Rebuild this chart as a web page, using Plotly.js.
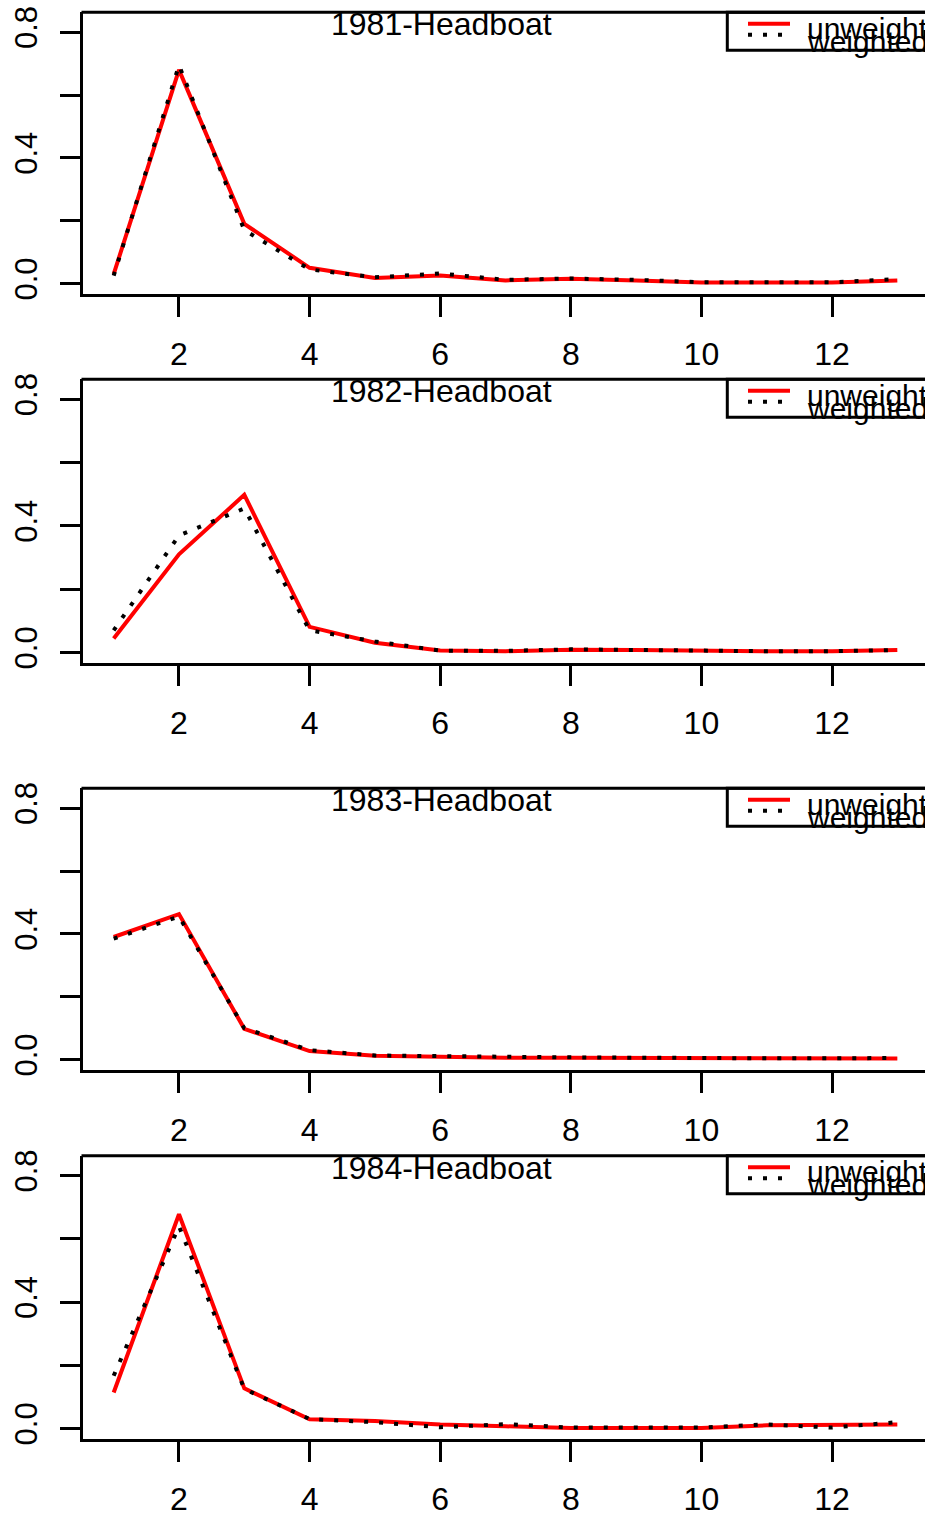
<!DOCTYPE html>
<html>
<head>
<meta charset="utf-8">
<script src="https://cdn.plot.ly/plotly-3.0.1.min.js"></script>
<style>html,body{margin:0;padding:0;background:#fff;}#chart{width:925px;height:1520px;}</style>
</head>
<body>
<div id="chart"></div>
<script>
// ---- data ----
const ages = [1,2,3,4,5,6,7,8,9,10,11,12,13];
const panelTitles = ["1981-Headboat","1982-Headboat","1983-Headboat","1984-Headboat"];
const seriesNames = ["unweighted","weighted"];
const xTickVals = [2,4,6,8,10,12];
const yTickVals = [0,0.2,0.4,0.6,0.8];
const yTickText = ["0.0","","0.4","","0.8"];

const unweighted1981 = [0.03,0.68,0.19,0.05,0.018,0.026,0.01,0.015,0.01,0.003,0.003,0.003,0.01];
const weighted1981   = [0.025,0.695,0.17,0.045,0.02,0.032,0.012,0.016,0.012,0.004,0.004,0.004,0.014];
const unweighted1982 = [0.044,0.31,0.498,0.081,0.031,0.006,0.004,0.009,0.008,0.005,0.004,0.004,0.008];
const weighted1982   = [0.07,0.37,0.455,0.07,0.035,0.006,0.005,0.01,0.008,0.005,0.004,0.004,0.008];
const unweighted1983 = [0.39,0.463,0.098,0.027,0.012,0.008,0.006,0.006,0.006,0.003,0.003,0.003,0.003];
const weighted1983   = [0.385,0.455,0.1,0.03,0.013,0.01,0.007,0.007,0.006,0.004,0.004,0.004,0.005];
const unweighted1984 = [0.114,0.678,0.127,0.029,0.024,0.013,0.007,0.002,0.002,0.002,0.01,0.012,0.013];
const weighted1984   = [0.167,0.64,0.125,0.03,0.02,0.004,0.014,0.003,0.003,0.003,0.013,0.003,0.02];

const unweightedAll = [unweighted1981,unweighted1982,unweighted1983,unweighted1984];
const weightedAll = [weighted1981,weighted1982,weighted1983,weighted1984];

// ---- layout geometry (pixels) ----
const W = 925, H = 1520;
const FONT = "Liberation Sans, Arial, Helvetica, sans-serif";
const panelTop = [12.3, 379.3, 788.3, 1155.7];
const panelBottom = [294, 663, 1070, 1439];
const plotLeft = 83;
const px = v => v / W;
const py = v => 1 - v / H;

const traces = [];
const layout = {
  width: W, height: H,
  margin: {l:0, r:0, t:0, b:0},
  paper_bgcolor: "#fff", plot_bgcolor: "#fff",
  showlegend: false,
  shapes: [], annotations: []
};

for (let i = 0; i < 4; i++) {
  const n = i === 0 ? "" : String(i + 1);
  const xa = "x" + n, ya = "y" + n;
  traces.push({
    x: ages, y: unweightedAll[i], xaxis: xa, yaxis: ya, type: "scatter", mode: "lines",
    name: seriesNames[0], line: {color: "#ff0000", width: 4}
  });
  traces.push({
    x: ages, y: weightedAll[i], xaxis: xa, yaxis: ya, type: "scatter", mode: "lines",
    name: seriesNames[1], line: {color: "#000000", width: 4, dash: "4px,11px"}
  });
  layout["xaxis" + n] = {
    domain: [px(plotLeft), 1], range: [0.53, 13.424], anchor: ya,
    tickvals: xTickVals, ticks: "outside", ticklen: 20, tickwidth: 3, tickcolor: "#000",
    showline: true, linewidth: 3, linecolor: "#000", showgrid: false, zeroline: false,
    tickfont: {family: FONT, size: 32, color: "#000"}, ticklabelstandoff: 10, fixedrange: true
  };
  layout["yaxis" + n] = {
    domain: [py(panelBottom[i]), py(panelTop[i])], range: [-0.0332, 0.8632], anchor: xa,
    tickvals: yTickVals, ticktext: yTickText, tickangle: -90,
    ticks: "outside", ticklen: 20, tickwidth: 3, tickcolor: "#000",
    showline: true, linewidth: 3, linecolor: "#000", showgrid: false, zeroline: false,
    tickfont: {family: FONT, size: 31, color: "#000"}, ticklabelstandoff: 11, fixedrange: true
  };
  // top border of plot box
  layout.shapes.push({type: "line", xref: "paper", yref: "paper",
    x0: px(plotLeft - 1.5), x1: 1.02, y0: py(panelTop[i]), y1: py(panelTop[i]),
    line: {color: "#000", width: 3}});
  // legend box
  const t = panelTop[i];
  layout.shapes.push({type: "rect", xref: "paper", yref: "paper",
    x0: px(727.3), x1: px(940), y0: py(t), y1: py(t + 38),
    line: {color: "#000", width: 3}, fillcolor: "rgba(0,0,0,0)"});
  layout.shapes.push({type: "line", xref: "paper", yref: "paper",
    x0: px(748), x1: px(790), y0: py(t + 11.5), y1: py(t + 11.5),
    line: {color: "#ff0000", width: 4}});
  layout.shapes.push({type: "line", xref: "paper", yref: "paper",
    x0: px(748), x1: px(792), y0: py(t + 22.5), y1: py(t + 22.5),
    line: {color: "#000", width: 4, dash: "4px,11px"}});
  layout.annotations.push({xref: "paper", yref: "paper", x: px(805), y: py(t + 16),
    xanchor: "left", yanchor: "middle", showarrow: false, text: seriesNames[0],
    font: {family: FONT, size: 30, color: "#000"}});
  layout.annotations.push({xref: "paper", yref: "paper", x: px(805), y: py(t + 29),
    xanchor: "left", yanchor: "middle", showarrow: false, text: seriesNames[1],
    font: {family: FONT, size: 30, color: "#000"}});
  // panel title
  layout.annotations.push({xref: "paper", yref: "paper", x: px(441), y: py(t + 12),
    xanchor: "center", yanchor: "middle", showarrow: false, text: panelTitles[i],
    font: {family: FONT, size: 32, color: "#000"}});
}

Plotly.newPlot("chart", traces, layout, {staticPlot: true, displayModeBar: false});
</script>
</body>
</html>
